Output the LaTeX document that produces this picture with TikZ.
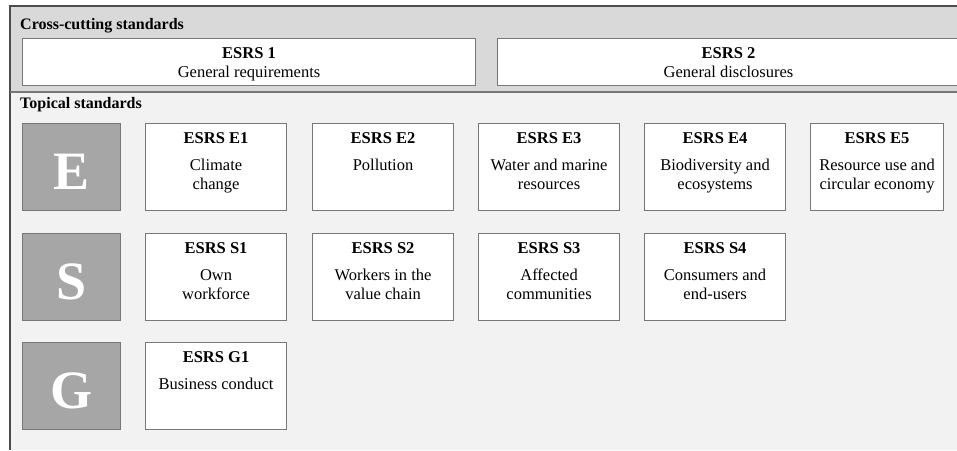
\documentclass[tikz,border=0pt]{standalone}
\usepackage{fontspec}
\setmainfont{Liberation Serif}
\usepackage{xcolor}
\usetikzlibrary{positioning}
\definecolor{crossgray}{HTML}{D9D9D9}
\definecolor{topicgray}{HTML}{F2F2F2}
\definecolor{lettergray}{HTML}{A6A6A6}
\definecolor{framegray}{HTML}{777777}

\begin{document}
\begin{tikzpicture}[x=1pt,y=-1pt,
  stdbox/.style={draw=framegray,line width=1.1pt,fill=white,anchor=north west,inner sep=0pt,minimum width=141pt,minimum height=87pt},
  letterbox/.style={draw=framegray,line width=1.1pt,fill=lettergray,anchor=north west,inner sep=0pt,minimum width=98pt,minimum height=87pt},
  boxtext/.style={inner sep=0pt,align=center,font=\fontsize{16.5}{19}\selectfont},
  heading/.style={anchor=base west,inner sep=0pt,font=\fontsize{16}{19}\selectfont\bfseries},
  bigletter/.style={anchor=base,inner sep=0pt,text=white,font=\fontsize{54}{54}\selectfont\bfseries}]
\useasboundingbox (0,0) rectangle (957,450);
% panels
\fill[crossgray] (10,6) rectangle (957,92);
\fill[topicgray] (10,92) rectangle (957,450);
\draw[black!70,line width=1.2pt] (957,6) -- (10,6) -- (10,450);
\draw[framegray,line width=1.2pt] (10,92) -- (957,92);
\node[heading] (cross) at (20,29) {Cross-cutting standards};
\node[heading] (topical) at (20,108) {Topical standards};

% cross-cutting
\node[stdbox,minimum width=453pt,minimum height=47pt] (esrs1) at (22,38) {};
\node[boxtext,below=9pt of esrs1.north] (esrs1-text) {\textbf{ESRS 1}\\General requirements};
\node[stdbox,minimum width=462pt,minimum height=47pt] (esrs2) at (497,38) {};
\node[boxtext,below=9pt of esrs2.north] (esrs2-text) {\textbf{ESRS 2}\\General disclosures};

% letter squares
\foreach \n/\y/\l in {le/123/E, ls/233/S, lg/342/G}{
  \node[letterbox] (\n) at (22,\y) {};
  \node[bigletter] (\n-text) at ([yshift=22pt]\n.south) {\l};
}

% topical standards
\foreach \n/\x/\y/\t/\d in {e1/145/123/E1/{Climate\\change}, e2/312/123/E2/Pollution,
    e3/478/123/E3/{Water and marine\\resources}, e4/644/123/E4/{Biodiversity and\\ecosystems},
    s1/145/233/S1/{Own\\workforce}, s2/312/233/S2/{Workers in the\\value chain},
    s3/478/233/S3/{Affected\\communities}, s4/644/233/S4/{Consumers and\\end-users},
    g1/145/342/G1/{Business conduct}}{
  \node[stdbox] (\n) at (\x,\y) {};
  \node[boxtext,below=9pt of \n.north] (\n-text) {\textbf{ESRS \t}\\[8pt]\d};
}
\node[stdbox,minimum width=133pt] (e5) at (810,123) {};
\node[boxtext,below=9pt of e5.north] (e5-text) {\textbf{ESRS E5}\\[8pt]Resource use and\\circular economy};
\end{tikzpicture}
\end{document}
